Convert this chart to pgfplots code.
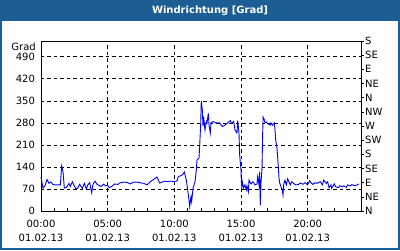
\documentclass[border=0pt]{standalone}
\usepackage{pgfplots}
\pgfplotsset{compat=1.18}
\usepackage{fontspec}
\setmainfont{DejaVu Sans}
\definecolor{framebl}{RGB}{28,94,148}
\definecolor{lineblue}{RGB}{0,0,245}
\pgfplotstableread{
h v
0.00 108
0.15 73
0.30 80
0.45 100
0.60 88
0.75 92
0.90 84
1.05 83
1.25 83
1.45 83
1.55 143
1.65 125
1.75 73
1.90 75
2.00 80
2.10 88
2.20 78
2.35 93
2.50 80
2.60 72
2.75 72
2.90 85
3.00 78
3.10 72
3.25 88
3.40 70
3.50 82
3.65 90
3.80 58
3.90 85
4.05 95
4.20 85
4.40 80
4.50 78
4.70 85
4.85 80
5.00 82
5.10 75
5.25 76
5.40 82
5.55 86
5.75 84
5.90 89
6.10 91
6.30 92
6.50 90
6.70 86
6.90 91
7.10 92
7.30 91
7.50 89
7.70 88
7.95 83
8.20 93
8.50 102
8.70 108
8.90 89
9.10 92
9.30 95
9.50 93
9.70 95
9.90 94
10.20 95
10.30 110
10.50 112
10.65 117
10.75 124
10.90 98
11.00 67
11.10 35
11.15 14
11.25 45
11.30 30
11.40 72
11.55 93
11.65 130
11.70 162
11.85 168
11.90 205
11.98 280
12.02 350
12.10 320
12.15 270
12.20 300
12.30 257
12.40 284
12.45 280
12.55 310
12.60 273
12.70 248
12.75 280
12.90 284
13.10 280
13.40 280
13.60 268
13.80 273
14.00 280
14.20 287
14.30 278
14.45 285
14.55 257
14.70 248
14.75 287
14.85 248
14.90 178
15.00 130
15.02 98
15.07 73
15.10 93
15.20 73
15.30 83
15.40 67
15.45 80
15.55 61
15.60 98
15.75 86
15.90 93
16.05 83
16.20 86
16.25 109
16.35 83
16.40 124
16.45 19
16.50 89
16.58 140
16.62 239
16.66 298
16.75 290
16.80 280
16.90 283
17.00 277
17.20 273
17.25 280
17.35 273
17.50 280
17.55 258
17.60 226
17.70 200
17.80 140
17.85 105
17.90 89
18.00 77
18.10 65
18.15 51
18.20 83
18.30 98
18.40 83
18.50 102
18.70 83
18.80 93
19.00 86
19.10 83
19.30 84
19.45 89
19.65 85
19.80 90
20.00 83
20.15 96
20.25 90
20.40 84
20.55 90
20.70 88
20.95 93
21.10 83
21.20 98
21.40 88
21.50 93
21.60 74
21.75 83
21.80 72
22.00 86
22.10 77
22.30 74
22.40 80
22.60 77
22.70 80
22.90 75
23.00 83
23.20 80
23.30 84
23.55 80
23.70 83
23.85 86
}\winddata
\begin{document}
\begin{tikzpicture}
\useasboundingbox (-41pt,-39pt) rectangle (359pt,211pt);
\fill[framebl] (-41pt,-39pt) rectangle (359pt,211pt);
\fill[white] (-39pt,-37pt) rectangle (357pt,190pt);
\node[white, font=\fontsize{10}{12}\selectfont\bfseries] at (169pt,200.5pt) {Windrichtung [Grad]};
\begin{axis}[scale only axis,
  width=320pt, height=170pt,
  xmin=0, xmax=24, ymin=0, ymax=540,
  xtick={0,5,10,15,20},
  xticklabels={{00:00\\01.02.13},{05:00\\01.02.13},{10:00\\01.02.13},{15:00\\01.02.13},{20:00\\01.02.13}},
  minor xtick={1,2,3,4,6,7,8,9,11,12,13,14,16,17,18,19,21,22,23},
  ytick={0,70,...,490},
  xtick pos=bottom, ytick pos=left,
  tick align=inside,
  major tick length=3pt, minor tick length=3pt,
  tick style={black, line width=0.6pt},
  grid=major,
  major grid style={black, dash pattern=on 3.5pt off 3pt, line width=0.6pt},
  axis line style={black, line width=0.8pt},
  /pgf/number format/assume math mode=true,
  ticklabel style={font=\fontsize{10}{14}\selectfont},
  xticklabel style={align=center, yshift=-6pt},
  yticklabel style={xshift=-2.5pt},
  clip=false,
]
\addplot[lineblue, line width=0.9pt] table[x=h, y=v] {\winddata};
\node[anchor=east, font=\fontsize{10}{12}\selectfont, inner sep=0pt] at (axis description cs:0,1) [xshift=-5pt, yshift=-6pt] {Grad};
\end{axis}
\begin{axis}[scale only axis,
  width=320pt, height=170pt,
  xmin=0, xmax=24, ymin=0, ymax=540,
  axis x line=none, axis y line*=right,
  ytick={0,45,...,540},
  yticklabels={N,NE,E,SE,S,SW,W,NW,N,NE,E,SE,S},
  tick align=outside, major tick length=3pt,
  tick style={black, line width=0.6pt},
  axis line style={black, line width=0.8pt},
  ticklabel style={font=\fontsize{10}{12}\selectfont},
  yticklabel style={inner sep=1pt},
]
\end{axis}
\end{tikzpicture}
\end{document}
